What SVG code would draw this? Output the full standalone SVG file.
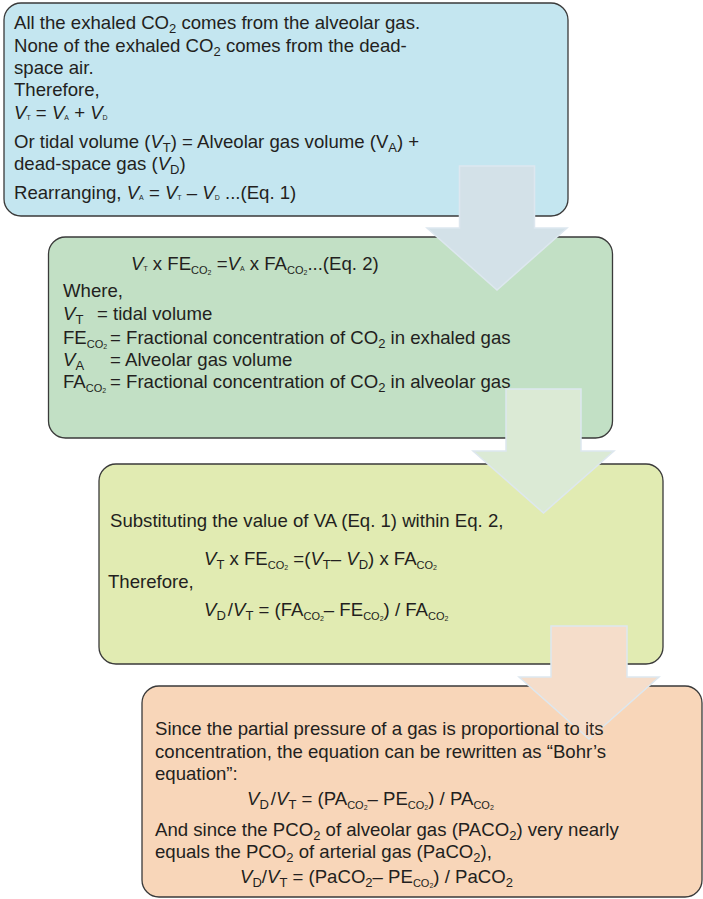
<svg xmlns="http://www.w3.org/2000/svg" xmlns:xlink="http://www.w3.org/1999/xlink" width="703" height="899" viewBox="0 0 703 899">
  <style>
    .box { stroke: #3a3a3a; stroke-width: 1.3; }
    .b1 { fill: #c4e6f0; }
    .b2 { fill: #c2e0c5; }
    .b3 { fill: #e1ebb2; }
    .b4 { fill: #f8d6b9; }
    text { font-family: "Liberation Sans", Arial, Helvetica, sans-serif; font-size: 18.6px; fill: #231f20; }
    .i { font-style: italic; }
    .s { font-size: 13px; }
    .t { font-size: 7px; }
    .c { font-size: 11px; }
    .c2 { font-size: 7px; }
    .arrow { stroke: #dde7ef; stroke-width: 1.5; stroke-linejoin: miter; }
  </style>
  <defs>
    <!-- keeps the label glyphs of the last box readable where the arrow head overlaps them -->
    <mask id="keep-label" maskUnits="userSpaceOnUse" x="0" y="0" width="703" height="899">
      <rect x="0" y="0" width="703" height="899" fill="#fff"/>
      <use xlink:href="#n4-line1" fill="#000" stroke="#000" stroke-width="1"/>
    </mask>
  </defs>

  <!-- node 1: mass balance -->
  <g id="node-1">
    <rect class="box b1" x="4" y="3" width="564" height="213" rx="17"/>
    <text x="14" y="29">All the exhaled CO<tspan class="s" dy="3.5">2</tspan><tspan dy="-3.5"> comes from the alveolar gas.</tspan></text>
    <text x="14" y="52">None of the exhaled CO<tspan class="s" dy="3.5">2</tspan><tspan dy="-3.5"> comes from the dead-</tspan></text>
    <text x="14" y="74">space air.</text>
    <text x="14" y="96">Therefore,</text>
    <text x="14" y="119"><tspan class="i">V</tspan><tspan class="t" dy="1">T</tspan><tspan dy="-1"> = </tspan><tspan class="i">V</tspan><tspan class="t" dy="1">A</tspan><tspan dy="-1"> + </tspan><tspan class="i">V</tspan><tspan class="t" dy="1">D</tspan></text>
    <text x="14" y="148">Or tidal volume (<tspan class="i">V</tspan><tspan class="s" dy="3.5">T</tspan><tspan dy="-3.5">) = Alveolar gas volume (V</tspan><tspan class="s" dy="3.5">A</tspan><tspan dy="-3.5">) +</tspan></text>
    <text x="14" y="170">dead-space gas (<tspan class="i">V</tspan><tspan class="s" dy="3.5">D</tspan><tspan dy="-3.5">)</tspan></text>
    <text x="14" y="199">Rearranging, <tspan class="i">V</tspan><tspan class="t" dy="1">A</tspan><tspan dy="-1"> = </tspan><tspan class="i">V</tspan><tspan class="t" dy="1">T</tspan><tspan dy="-1"> – </tspan><tspan class="i">V</tspan><tspan class="t" dy="1">D</tspan><tspan dy="-1"> ...(Eq. 1)</tspan></text>
  </g>

  <!-- node 2: CO2 balance -->
  <g id="node-2">
    <rect class="box b2" x="48.5" y="237" width="564" height="201" rx="17"/>
    <text x="131" y="270"><tspan class="i">V</tspan><tspan class="t" dy="1">T</tspan><tspan dy="-1"> x FE</tspan><tspan class="c" dy="3.5">CO</tspan><tspan class="c2" dy="1.5">2</tspan><tspan dy="-5"> =</tspan><tspan class="i">V</tspan><tspan class="t" dy="1">A</tspan><tspan dy="-1"> x FA</tspan><tspan class="c" dy="3.5">CO</tspan><tspan class="c2" dy="1.5">2</tspan><tspan dy="-5">...(Eq. 2)</tspan></text>
    <text x="63" y="297">Where,</text>
    <text x="63" y="320"><tspan class="i">V</tspan><tspan class="s" dy="3.5">T</tspan><tspan x="97" dy="-3.5">= tidal volume</tspan></text>
    <text x="63" y="344">FE<tspan class="c" dy="3.5">CO</tspan><tspan class="c2" dy="1.5">2</tspan><tspan x="110" dy="-5">= Fractional concentration of CO</tspan><tspan class="s" dy="3.5">2</tspan><tspan dy="-3.5"> in exhaled gas</tspan></text>
    <text x="63" y="366"><tspan class="i">V</tspan><tspan class="s" dy="3.5">A</tspan><tspan x="110" dy="-3.5">= Alveolar gas volume</tspan></text>
    <text x="63" y="388">FA<tspan class="c" dy="3.5">CO</tspan><tspan class="c2" dy="1.5">2</tspan><tspan x="110" dy="-5">= Fractional concentration of CO</tspan><tspan class="s" dy="3.5">2</tspan><tspan dy="-3.5"> in alveolar gas</tspan></text>
  </g>

  <!-- node 3: substitution -->
  <g id="node-3">
    <rect class="box b3" x="99" y="464" width="564" height="200" rx="17"/>
    <text x="110" y="527">Substituting the value of VA (Eq. 1) within Eq. 2,</text>
    <text x="204" y="565"><tspan class="i">V</tspan><tspan class="s" dy="3.5">T</tspan><tspan dy="-3.5"> x FE</tspan><tspan class="c" dy="3.5">CO</tspan><tspan class="c2" dy="1.5">2</tspan><tspan dy="-5"> =(</tspan><tspan class="i">V</tspan><tspan class="s" dy="3.5">T</tspan><tspan dy="-3.5">– </tspan><tspan class="i">V</tspan><tspan class="s" dy="3.5">D</tspan><tspan dy="-3.5">) x FA</tspan><tspan class="c" dy="3.5">CO</tspan><tspan class="c2" dy="1.5">2</tspan></text>
    <text x="108" y="588">Therefore,</text>
    <text x="204" y="616"><tspan class="i">V</tspan><tspan class="s" dy="3.5">D</tspan><tspan dx="2" dy="-3.5">/</tspan><tspan class="i">V</tspan><tspan class="s" dy="3.5">T</tspan><tspan dy="-3.5"> = (FA</tspan><tspan class="c" dy="3.5">CO</tspan><tspan class="c2" dy="1.5">2</tspan><tspan dy="-5">– FE</tspan><tspan class="c" dy="3.5">CO</tspan><tspan class="c2" dy="1.5">2</tspan><tspan dy="-5">) / FA</tspan><tspan class="c" dy="3.5">CO</tspan><tspan class="c2" dy="1.5">2</tspan></text>
  </g>

  <!-- node 4: Bohr's equation -->
  <g id="node-4">
    <rect class="box b4" x="142" y="686" width="560" height="211" rx="17"/>
    <text id="n4-line1" x="155" y="735">Since the partial pressure of a gas is proportional to its</text>
    <text x="155" y="758">concentration, the equation can be rewritten as “Bohr’s</text>
    <text x="155" y="780">equation”:</text>
    <text x="247" y="805"><tspan class="i">V</tspan><tspan class="s" dy="3.5">D</tspan><tspan dx="2" dy="-3.5">/</tspan><tspan class="i">V</tspan><tspan class="s" dy="3.5">T</tspan><tspan dy="-3.5"> = (PA</tspan><tspan class="c" dy="3.5">CO</tspan><tspan class="c2" dy="1.5">2</tspan><tspan dy="-5">– PE</tspan><tspan class="c" dy="3.5">CO</tspan><tspan class="c2" dy="1.5">2</tspan><tspan dy="-5">) / PA</tspan><tspan class="c" dy="3.5">CO</tspan><tspan class="c2" dy="1.5">2</tspan></text>
    <text x="155" y="836">And since the PCO<tspan class="s" dy="3.5">2</tspan><tspan dy="-3.5"> of alveolar gas (PACO</tspan><tspan class="s" dy="3.5">2</tspan><tspan dy="-3.5">) very nearly</tspan></text>
    <text x="155" y="858">equals the PCO<tspan class="s" dy="3.5">2</tspan><tspan dy="-3.5"> of arterial gas (PaCO</tspan><tspan class="s" dy="3.5">2</tspan><tspan dy="-3.5">),</tspan></text>
    <text x="240" y="883"><tspan class="i">V</tspan><tspan class="s" dy="3.5">D</tspan><tspan dy="-3.5">/</tspan><tspan class="i">V</tspan><tspan class="s" dy="3.5">T</tspan><tspan dy="-3.5"> = (PaCO</tspan><tspan class="s" dy="3.5">2</tspan><tspan dy="-3.5">– PE</tspan><tspan class="c" dy="3.5">CO</tspan><tspan class="c2" dy="1.5">2</tspan><tspan dy="-5">) / PaCO</tspan><tspan class="s" dy="3.5">2</tspan></text>
  </g>

  <!-- block arrows linking each step to the next -->
  <g id="connectors">
    <path class="arrow" fill="#d3e1e8" d="M459.5,166 H534.5 V228 H567 L497,290 L427,228 H459.5 Z"/>
    <path class="arrow" fill="#dbead5" d="M506,389 H581 V451 H614 L543.5,513 L473,451 H506 Z"/>
    <path class="arrow" fill="#f5ddca" mask="url(#keep-label)" d="M551,626 H627 V677 H659 L589,739 L519,677 H551 Z"/>
  </g>
</svg>
